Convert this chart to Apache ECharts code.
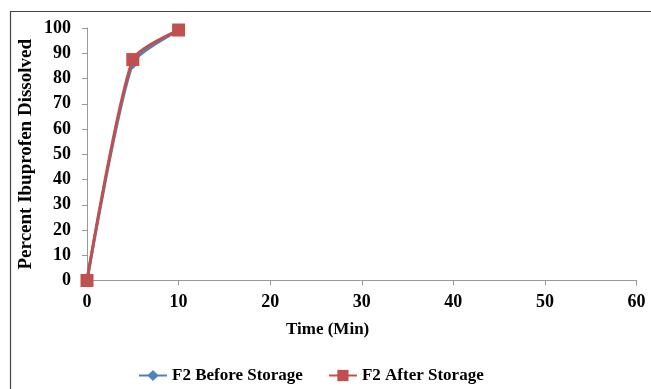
<!DOCTYPE html>
<html><head><meta charset="utf-8">
<script src="https://cdn.jsdelivr.net/npm/echarts@6/dist/echarts.min.js"></script>
<style>html,body{margin:0;padding:0;background:#fff}#c{width:651px;height:389px}</style>
</head><body><div id="c"></div>
<script>
const time = [0, 5, 10];
const beforeStorage = [0, 86, 99];
const afterStorage = [0, 87.5, 99.2];
const xTicks = [0, 10, 20, 30, 40, 50, 60];
const yTicks = [0,10,20,30,40,50,60,70,80,90,100];

const font = 'Liberation Serif';
const chart = echarts.init(document.getElementById('c'));
chart.setOption({
  animation: false,
  backgroundColor: '#fff',
  graphic: [{
    type: 'rect', shape: {x: 10.5, y: 11.5, width: 660, height: 400},
    style: {fill: 'none', stroke: '#444', lineWidth: 1.2}, silent: true
  }, {
    type: 'text', left: 286, top: 321,
    style: {text: 'Time (Min)', font: 'bold 17px "Liberation Serif"', fill: '#000'}
  }],
  grid: {left: 87, right: 14.5, top: 28, bottom: 108.5},
  legend: {
    bottom: 0, left: 133, itemWidth: 28, itemHeight: 14, itemGap: 25,
    textStyle: {fontFamily: font, fontWeight: 'bold', fontSize: 17, color: '#000'},
    data: ['F2 Before Storage', 'F2 After Storage']
  },
  xAxis: {
    type: 'value', min: 0, max: 60, interval: 10,
    axisLine: {lineStyle: {color: '#999', width: 1}},
    axisTick: {show: true, length: 5, lineStyle: {color: '#999'}},
    splitLine: {show: false},
    axisLabel: {fontFamily: font, fontWeight: 'bold', fontSize: 18, color: '#000', margin: 13,
      formatter: v => xTicks.includes(v) ? String(v) : ''}
  },
  yAxis: {
    type: 'value', min: 0, max: 100, interval: 10,
    name: 'Percent Ibuprofen Dissolved', nameLocation: 'middle', nameGap: 51,
    nameMoveOverlap: false,
    nameTextStyle: {fontFamily: font, fontWeight: 'bold', fontSize: 19, color: '#000'},
    axisLine: {show: true, lineStyle: {color: '#999', width: 1}},
    axisTick: {show: true, length: 5, lineStyle: {color: '#999'}},
    splitLine: {show: false},
    axisLabel: {fontFamily: font, fontWeight: 'bold', fontSize: 18, color: '#000', margin: 16,
      formatter: v => yTicks.includes(v) ? String(v) : ''}
  },
  series: [{
    name: 'F2 Before Storage', type: 'line', smooth: 0.22,
    data: time.map((t, i) => [t, beforeStorage[i]]),
    symbol: 'diamond', symbolSize: 12,
    lineStyle: {color: '#4F81BD', width: 3}, itemStyle: {color: '#4F81BD'}, z: 2
  }, {
    name: 'F2 After Storage', type: 'line', smooth: 0.22,
    data: time.map((t, i) => [t, afterStorage[i]]),
    symbol: 'rect', symbolSize: 13,
    lineStyle: {color: '#C0504D', width: 3}, itemStyle: {color: '#C0504D'}, z: 3
  }]
});
</script></body></html>
